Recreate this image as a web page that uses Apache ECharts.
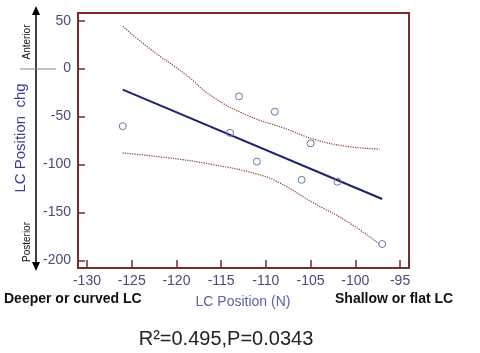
<!DOCTYPE html>
<html>
<head>
<meta charset="utf-8">
<script src="https://cdn.jsdelivr.net/npm/echarts@6/dist/echarts.min.js"></script>
<style>
  html, body { margin: 0; padding: 0; background: #fff; }
  #chart { width: 480px; height: 353px; }
</style>
</head>
<body>
<div id="chart"></div>
<script>
// measured points (LC position vs change)
const ptX = [-126, -114, -113, -111, -109, -106, -105, -102, -97];
const ptY = [-60, -67, -29, -97, -45, -116, -78, -118, -183];

// fitted line ends
const fitX = [-126, -97];
const fitY = [-22, -136];

// confidence band
const upX = [-126, -123, -119, -116, -112, -108, -104.5, -101, -97.3];
const upY = [44, 21, -6, -29, -49, -62, -74, -81, -84];
const loX = [-126, -121, -116, -111, -108.5, -104.7, -101, -97.3];
const loY = [-88, -93, -100, -110, -119, -140, -159, -183];

const xTicks = [-130, -125, -120, -115, -110, -105, -100, -95];
const yTicks = [50, 0, -50, -100, -150, -200];

const zip = (a, b) => a.map((v, i) => [v, b[i]]);

const frameColor = "#7a2c2c";
const tickTextColor = "#4a4a7e";
const bandColor = "#8a3b2b";

var myChart = echarts.init(document.getElementById("chart"));
var option = {
  animation: false,
  grid: {
    left: 78, top: 13, right: 71, bottom: 85,
    show: true,
    borderColor: frameColor,
    borderWidth: 2
  },
  xAxis: {
    type: "value",
    min: -131,
    max: -94,
    splitLine: { show: false },
    axisLine: { show: false, onZero: false },
    axisTick: {
      show: true, inside: true, length: 8,
      customValues: xTicks,
      lineStyle: { color: frameColor, width: 1.5 }
    },
    axisLabel: {
      customValues: xTicks,
      margin: 6,
      color: tickTextColor,
      fontFamily: "Liberation Sans, Arial",
      fontSize: 14
    }
  },
  yAxis: {
    type: "value",
    min: -208,
    max: 58,
    splitLine: { show: false },
    axisLine: { show: false, onZero: false },
    axisTick: {
      show: true, inside: true, length: 7,
      customValues: yTicks,
      lineStyle: { color: frameColor, width: 1.5 }
    },
    axisLabel: {
      customValues: yTicks,
      margin: 7,
      color: tickTextColor,
      fontFamily: "Liberation Sans, Arial",
      fontSize: 14
    }
  },
  series: [
    {
      type: "line",
      data: zip(upX, upY),
      smooth: true,
      symbol: "none",
      lineStyle: { color: bandColor, width: 1.2, type: "dotted" }
    },
    {
      type: "line",
      data: zip(loX, loY),
      smooth: true,
      symbol: "none",
      lineStyle: { color: bandColor, width: 1.2, type: "dotted" }
    },
    {
      type: "line",
      data: zip(fitX, fitY),
      symbol: "none",
      lineStyle: { color: "#1c2170", width: 2 }
    },
    {
      type: "scatter",
      data: zip(ptX, ptY),
      symbol: "circle",
      symbolSize: 7,
      z: 5,
      itemStyle: { color: "rgba(255,255,255,0)", borderColor: "#6a70a8", borderWidth: 1, opacity: 1 }
    }
  ],
  graphic: [
    // side arrow
    { type: "line", shape: { x1: 36, y1: 12, x2: 36, y2: 265 }, style: { stroke: "#000", lineWidth: 1.5 } },
    { type: "polygon", shape: { points: [[36, 6], [32, 15], [40, 15]] }, style: { fill: "#000" } },
    { type: "polygon", shape: { points: [[36, 271], [32, 262], [40, 262]] }, style: { fill: "#000" } },
    { type: "line", shape: { x1: 20, y1: 69, x2: 56, y2: 69 }, style: { stroke: "#888", lineWidth: 1 } },
    {
      type: "text", x: 27, y: 42, rotation: Math.PI / 2,
      style: { text: "Anterior", fill: "#111", font: "10px Liberation Sans, Arial", align: "center", verticalAlign: "middle" }
    },
    {
      type: "text", x: 27, y: 242, rotation: Math.PI / 2,
      style: { text: "Posterior", fill: "#111", font: "10px Liberation Sans, Arial", align: "center", verticalAlign: "middle" }
    },
    {
      type: "text", x: 21, y: 138, rotation: Math.PI / 2,
      style: { text: "LC Position  chg", fill: "#3a3d92", font: "15px Liberation Sans, Arial", align: "center", verticalAlign: "middle" }
    },
    {
      type: "text", x: 243, y: 302,
      style: { text: "LC Position (N)", fill: "#5a5fa6", font: "14px Liberation Sans, Arial", align: "center", verticalAlign: "middle" }
    },
    {
      type: "text", x: 4, y: 299,
      style: { text: "Deeper or curved LC", fill: "#111", font: "bold 14px Liberation Sans, Arial", align: "left", verticalAlign: "middle" }
    },
    {
      type: "text", x: 335, y: 299,
      style: { text: "Shallow or flat LC", fill: "#111", font: "bold 14px Liberation Sans, Arial", align: "left", verticalAlign: "middle" }
    },
    {
      type: "text", x: 226, y: 339,
      style: { text: "R²=0.495,P=0.0343", fill: "#222", font: "20px Liberation Sans, Arial", align: "center", verticalAlign: "middle" }
    }
  ]
};
myChart.setOption(option);
</script>
</body>
</html>
